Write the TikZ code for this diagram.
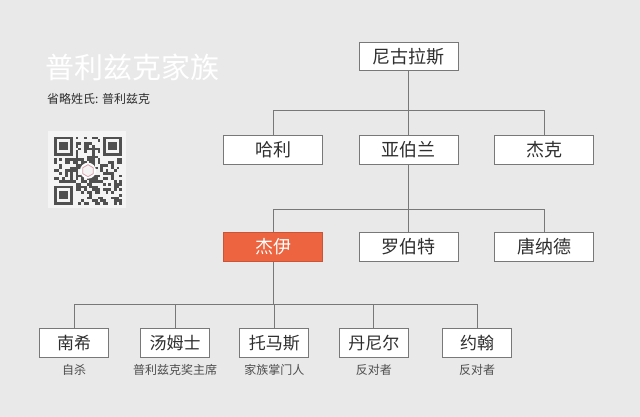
\documentclass[tikz,border=0pt]{standalone}
\usepackage{fontspec}
\newfontfamily\cjk{Noto Sans CJK SC}
\usetikzlibrary{positioning}
\definecolor{familybg}{HTML}{EAE9EA}
\definecolor{familyline}{HTML}{787878}
\definecolor{familyorange}{HTML}{EC6440}
\definecolor{familytext}{HTML}{2E2E2E}
\definecolor{qrbg}{HTML}{F4F4F4}
\definecolor{qrdark}{HTML}{505050}
\definecolor{qrpink}{HTML}{D9A3AE}

\tikzset{
  bigbox/.style={draw=familyline, fill=white, line width=0.8pt,
    minimum width=99pt, minimum height=28.5pt, inner sep=0pt,
    text=familytext, font=\cjk\fontsize{18}{18}\selectfont},
  smallbox/.style={bigbox, minimum width=69pt, minimum height=29pt,
    font=\cjk\fontsize{17}{17}\selectfont},
  rolelabel/.style={inner sep=0pt, text=familytext!85,
    font=\cjk\fontsize{12}{12}\selectfont},
  tree/.style={draw=familyline, line width=0.8pt}
}

\begin{document}
\begin{tikzpicture}[x=1pt, y=-1pt]
    % Background and page size (640 x 417)
    \fill[familybg] (0,0) rectangle (640,417);
    \useasboundingbox (0,0) rectangle (640,417);

    % Title block
    \node[anchor=west, inner sep=0pt, text=white,
      font=\cjk\fontsize{29}{29}\selectfont] (title) at (45,67) {普利兹克家族};
    \node[anchor=west, inner sep=0pt, text=familytext,
      font=\cjk\fontsize{12}{12}\selectfont] (subtitle) at (47,98.5) {省略姓氏: 普利兹克};

    % QR code (pseudo pattern)
    \def\qx{54}   % grid left
    \def\qy{136.7} % grid top
    \def\qm{2.72} % module size
    \fill[qrbg] (48,131) rectangle (126,208);
    \pgfmathsetseed{17}
    \foreach \i in {0,...,24} {
      \foreach \j in {0,...,24} {
        \pgfmathrandominteger{\qrbit}{0}{1}
        \ifnum\qrbit=1
          \fill[qrdark] (\qx+\i*\qm, \qy+\j*\qm) rectangle ++(\qm,\qm);
        \fi
      }
    }
    % finder squares
    \foreach \fa/\fb in {0/0, 18/0, 0/18} {
      \fill[qrbg] (\qx+\fa*\qm-\qm, \qy+\fb*\qm-\qm) rectangle ++(9*\qm,9*\qm);
      \fill[qrdark] (\qx+\fa*\qm, \qy+\fb*\qm) rectangle ++(7*\qm,7*\qm);
      \fill[qrbg] (\qx+\fa*\qm+\qm, \qy+\fb*\qm+\qm) rectangle ++(5*\qm,5*\qm);
      \fill[qrdark] (\qx+\fa*\qm+2*\qm, \qy+\fb*\qm+2*\qm) rectangle ++(3*\qm,3*\qm);
    }
    % centre logo
    \coordinate (qrlogo) at (\qx+12.5*\qm, \qy+12.5*\qm);
    \fill[white] (qrlogo) circle (8);
    \draw[qrpink, line width=0.8pt, fill=qrbg] (qrlogo) ++(90:6) -- ++(-30:6) -- ++(-90:6)
      -- ++(-150:6) -- ++(150:6) -- ++(90:6) -- cycle;

    % Generation 1
    \node[bigbox] (nikolas) at (408.5,56.5) {尼古拉斯};

    % Generation 2
    \node[bigbox] (harry) at (273,150) {哈利};
    \node[bigbox] (abram) at (408.5,150) {亚伯兰};
    \node[bigbox] (jack)  at (544,150) {杰克};

    % Generation 3
    \node[bigbox, fill=familyorange, draw=familyorange!85!black, text=white]
      (jay) at (273,247) {杰伊};
    \node[bigbox] (robert) at (408.5,247) {罗伯特};
    \node[bigbox] (donald) at (544,247) {唐纳德};

    % Generation 4 with roles
    \foreach \name/\txt/\role/\x in {
        nancy/南希/自杀/74,
        tom/汤姆士/普利兹克奖主席/175,
        thomas/托马斯/家族掌门人/274.3,
        daniel/丹尼尔/反对者/373.8,
        john/约翰/反对者/477.2} {
      \node[smallbox] (\name) at (\x,343) {\txt};
      \node[rolelabel, below=6.5pt of \name] (\name-role) {\role};
    }

    % Connector buses
    \coordinate (busa) at (0,110.3);
    \coordinate (busb) at (0,209.2);
    \coordinate (busc) at (0,304);

    \draw[tree] (nikolas.south) -- (abram.north);
    \draw[tree] (harry.north) -- (harry.north |- busa) -- (jack.north |- busa) -- (jack.north);
    \draw[tree] (abram.south) -- (robert.north);
    \draw[tree] (jay.north) -- (jay.north |- busb) -- (donald.north |- busb) -- (donald.north);
    \draw[tree] (jay.south) -- (jay.south |- busc);
    \draw[tree] (nancy.north) -- (nancy.north |- busc) -- (john.north |- busc) -- (john.north);
    \foreach \name in {tom, thomas, daniel} {
      \draw[tree] (\name.north) -- (\name.north |- busc);
    }
  \end{tikzpicture}
\end{document}
